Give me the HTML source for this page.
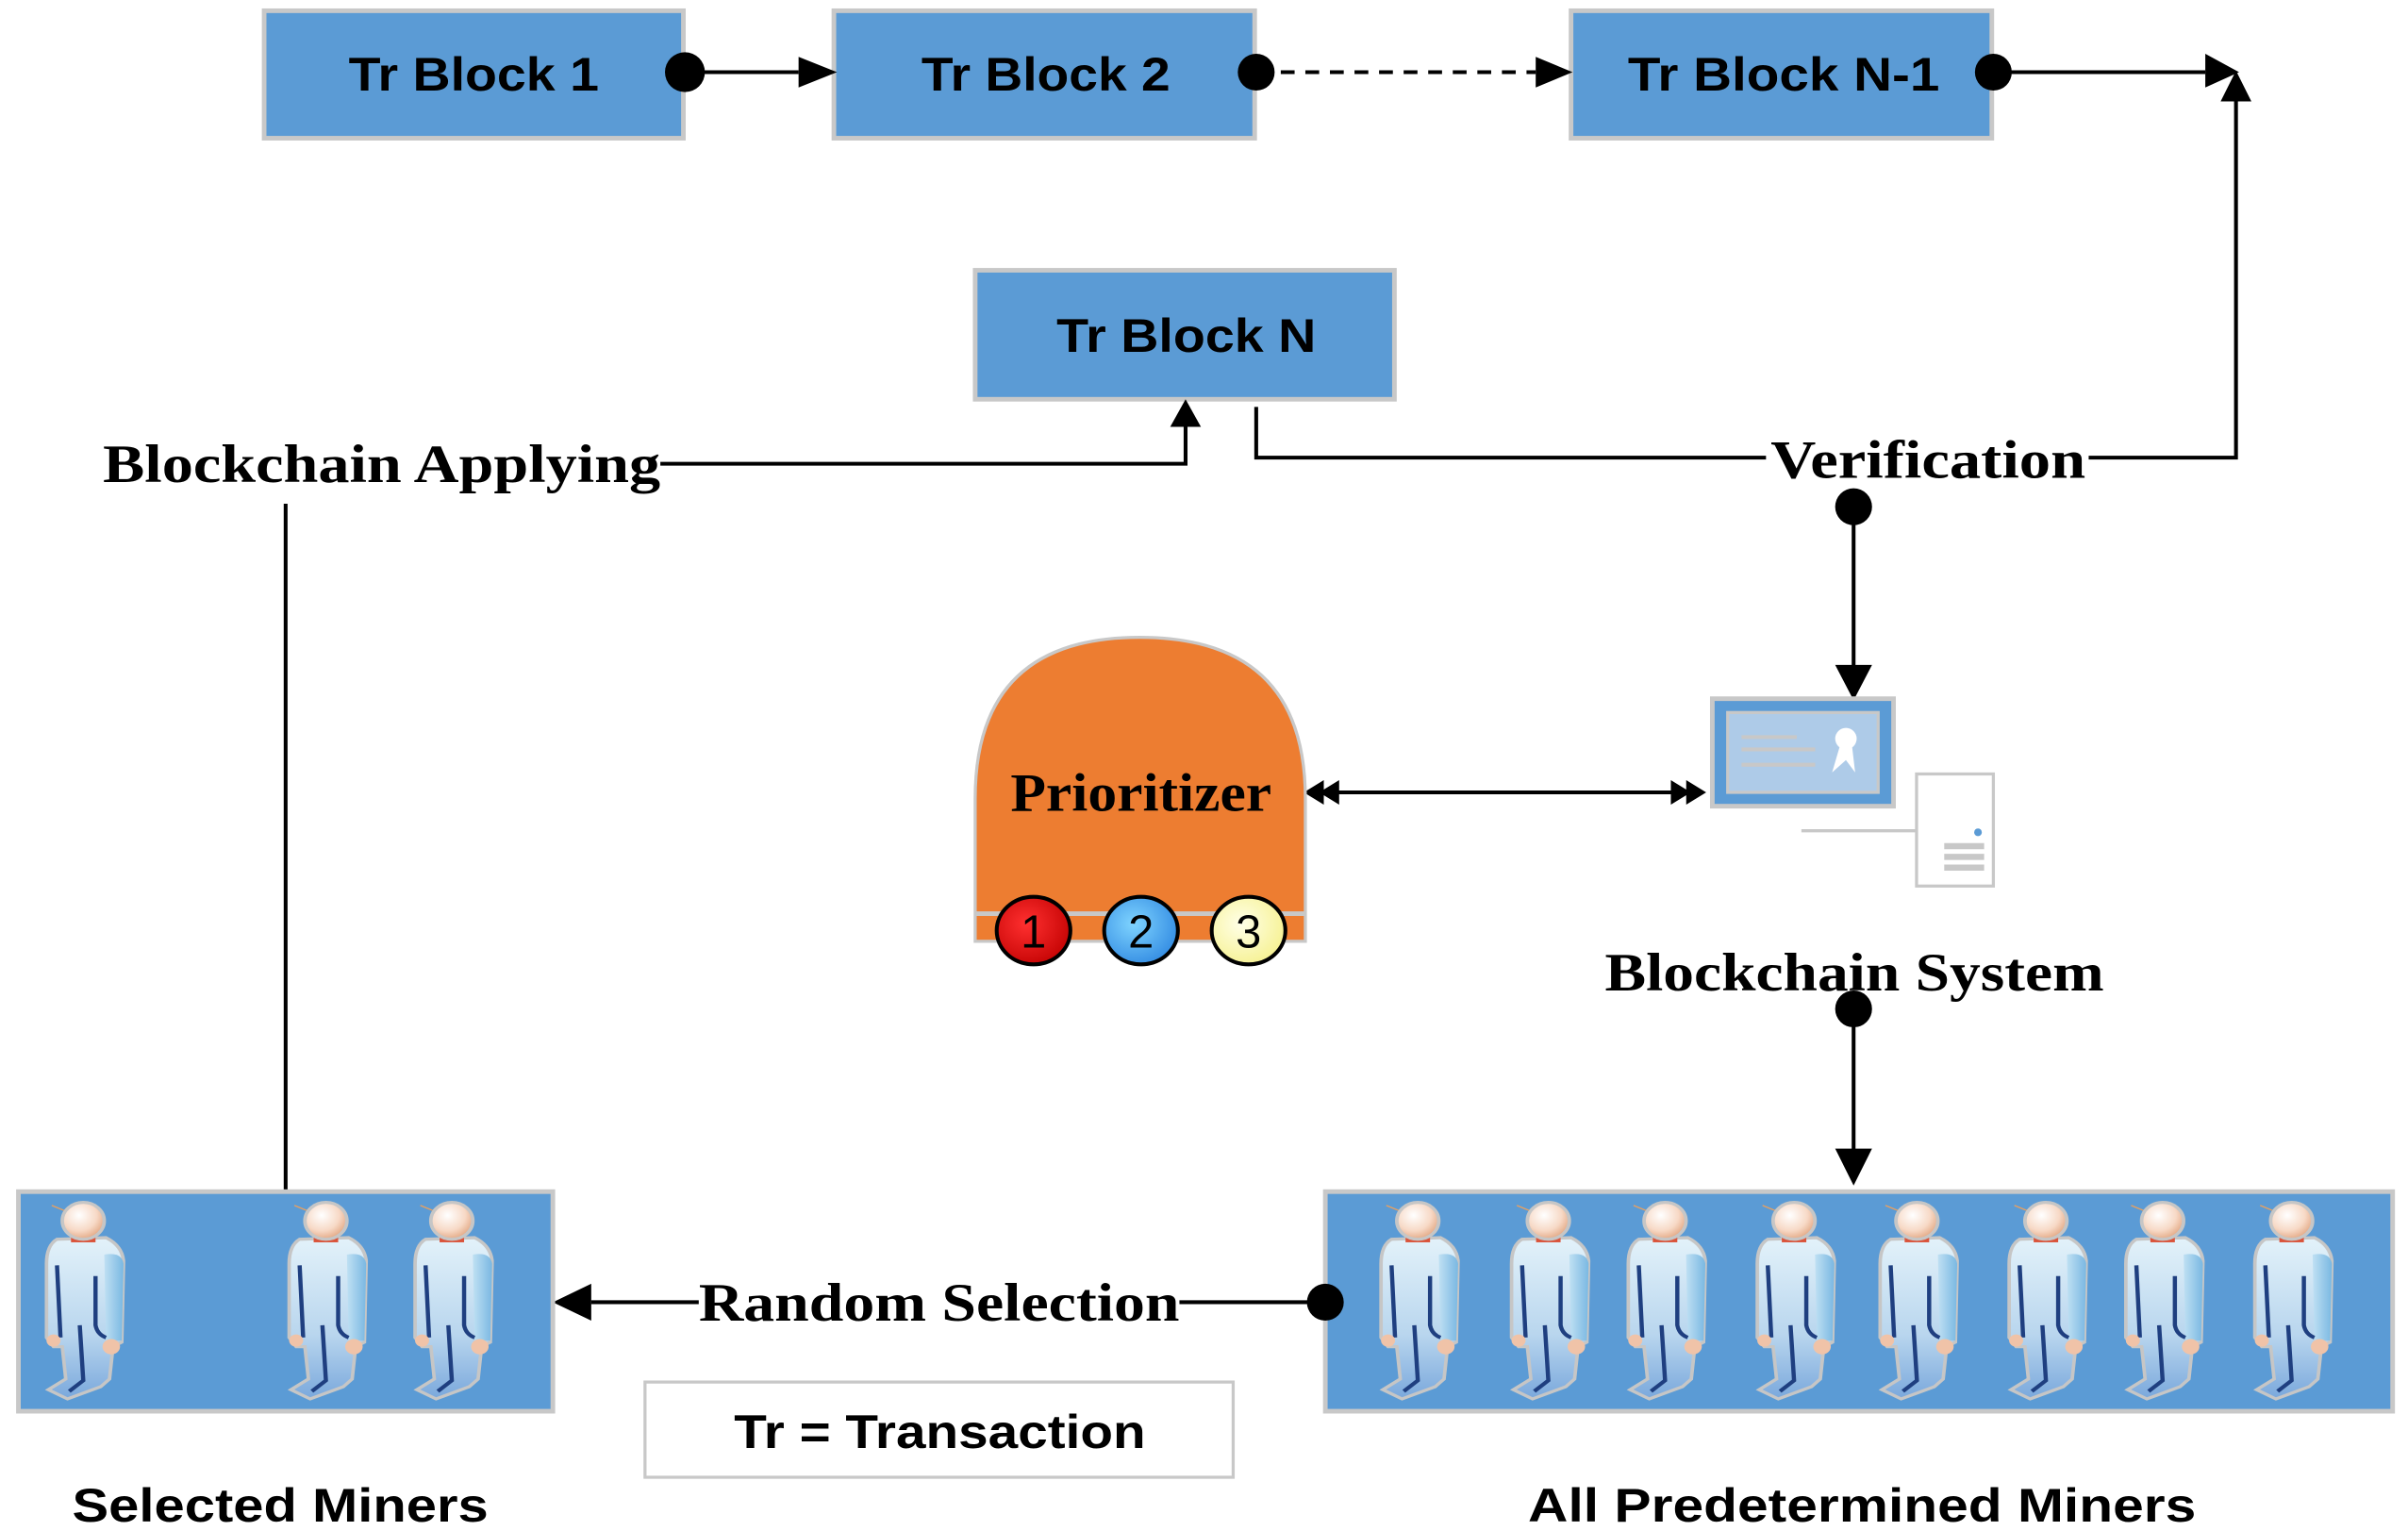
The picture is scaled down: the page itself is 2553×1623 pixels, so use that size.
<!DOCTYPE html>
<html><head><meta charset="utf-8"><style>
html,body{margin:0;padding:0;background:#fff;width:2553px;height:1623px;overflow:hidden}
svg{display:block}
.cal{font-family:"Liberation Sans",sans-serif;font-weight:bold;fill:#000}
.ser{font-family:"Liberation Serif",serif;font-weight:bold;fill:#000}
</style></head><body>
<svg width="2553" height="1623" viewBox="0 0 1568 997" preserveAspectRatio="none" xmlns="http://www.w3.org/2000/svg">
<defs>
<linearGradient id="body" x1="0" y1="0" x2="0" y2="1"><stop offset="0" stop-color="#e3f2fa"/><stop offset="0.6" stop-color="#b9d6ee"/><stop offset="1" stop-color="#7aa8dc"/></linearGradient>
<linearGradient id="arm" x1="0" y1="0" x2="1" y2="0"><stop offset="0" stop-color="#bfe0f3"/><stop offset="1" stop-color="#7ab8e2"/></linearGradient>
<radialGradient id="head" cx="0.4" cy="0.35" r="0.7"><stop offset="0" stop-color="#fff"/><stop offset="0.6" stop-color="#f7d9c6"/><stop offset="1" stop-color="#e0a27c"/></radialGradient>
<radialGradient id="c1" cx="0.4" cy="0.4" r="0.7"><stop offset="0" stop-color="#ff3030"/><stop offset="1" stop-color="#c00000"/></radialGradient>
<radialGradient id="c2" cx="0.4" cy="0.4" r="0.7"><stop offset="0" stop-color="#7fd4ff"/><stop offset="1" stop-color="#2d86e0"/></radialGradient>
<radialGradient id="c3" cx="0.4" cy="0.4" r="0.7"><stop offset="0" stop-color="#ffffe8"/><stop offset="1" stop-color="#f5f08a"/></radialGradient>
<g id="p0">
<line x1="5" y1="4" x2="18" y2="10" stroke="#e8a060" stroke-width="0.8"/>
<path d="M8,26 Q2,30 2,42 L2,90 L6,96 L11,96 L13,117 L3,124 L14,130 L33,122 L38,117 L40,96 L45,93 L46,40 Q45,30 36,25 Z" fill="url(#body)" stroke="#c6c6c6" stroke-width="2"/>
<path d="M35,36 Q45,34 46,42 L45,92 L36,92 Z" fill="url(#arm)"/>
<rect x="16" y="23" width="14" height="5" fill="#d9533a"/>
<circle cx="23" cy="14" r="12" fill="url(#head)" stroke="#c6c6c6" stroke-width="2"/>
<path d="M8,43 L10,90 M30,50 L30,82 Q31,88 36,90 M21,82 L23,118 L15,125" fill="none" stroke="#1f3f80" stroke-width="2.4"/>
<circle cx="6" cy="92" r="4" fill="#f0c3a8"/><circle cx="39" cy="96" r="5" fill="#f0c3a8"/>
</g>
<g id="p"><use href="#p0" transform="scale(1.14,1)"/></g>
</defs>

<g stroke="#c8c8c8" stroke-width="3" fill="#5b9bd5">
<rect x="172" y="7" width="273" height="83"/>
<rect x="543" y="7" width="274" height="83"/>
<rect x="1023" y="7" width="274" height="83"/>
<rect x="635" y="176" width="273" height="84"/>
</g>
<text class="cal" x="227" y="59" font-size="31" textLength="163" lengthAdjust="spacingAndGlyphs">Tr Block 1</text>
<text class="cal" x="600" y="59" font-size="31" textLength="162" lengthAdjust="spacingAndGlyphs">Tr Block 2</text>
<text class="cal" x="1060" y="59" font-size="31" textLength="203" lengthAdjust="spacingAndGlyphs">Tr Block N-1</text>
<text class="cal" x="688" y="229" font-size="31" textLength="169" lengthAdjust="spacingAndGlyphs">Tr Block N</text>

<g stroke="#000" stroke-width="2.5" fill="none">
<line x1="446" y1="47" x2="520" y2="47"/>
<line x1="818" y1="47" x2="1000" y2="47" stroke-dasharray="9,7"/>
<line x1="1298" y1="47" x2="1436" y2="47"/>
<polyline points="1360,298 1456,298 1456,66"/>
<polyline points="818,265 818,298 1150,298"/>
<polyline points="430,302 772,302 772,278"/>
<line x1="186" y1="328" x2="186" y2="776"/>
<line x1="1207" y1="330" x2="1207" y2="435"/>
<line x1="868" y1="516" x2="1092" y2="516"/>
<line x1="1207" y1="657" x2="1207" y2="752"/>
<line x1="385" y1="848" x2="455" y2="848"/>
<line x1="768" y1="848" x2="863" y2="848"/>
</g>
<g fill="#000">
<circle cx="446" cy="47" r="13" /><path d="M520,37 L545,47 L520,57Z"/>
<circle cx="818" cy="47" r="12"/><path d="M1000,37 L1024,47 L1000,57Z"/>
<circle cx="1298" cy="47" r="12"/><path d="M1436,35 L1458,47 L1436,57Z"/>
<path d="M1446,66 L1456,46 L1466,66Z"/>
<path d="M762,278 L772,260 L782,278Z"/>
<circle cx="1207" cy="330" r="12"/><path d="M1195,433 L1207,456 L1219,433Z"/>
<circle cx="1207" cy="657" r="12"/><path d="M1195,748 L1207,772 L1219,748Z"/>
<path d="M385,836 L360,848 L385,860Z"/>
<path d="M849,516 L862,508 L862,524Z M859,516 L872,508 L872,524Z"/>
<path d="M1111,516 L1098,508 L1098,524Z M1101,516 L1088,508 L1088,524Z"/>
</g>

<text class="ser" x="67" y="314" font-size="35" textLength="363" lengthAdjust="spacingAndGlyphs">Blockchain Applying</text>
<rect x="1150" y="280" width="210" height="36" fill="#fff"/>
<text class="ser" x="1153" y="311" font-size="35" textLength="205" lengthAdjust="spacingAndGlyphs">Verification</text>
<text class="ser" x="1045" y="645" font-size="35" textLength="325" lengthAdjust="spacingAndGlyphs">Blockchain System</text>
<text class="ser" x="455" y="860" font-size="35" textLength="313" lengthAdjust="spacingAndGlyphs">Random Selection</text>

<path d="M635,613 L635,520 Q635,415 742,415 Q850,415 850,520 L850,613 Z" fill="#ed7d31" stroke="#c8c8c8" stroke-width="2"/>
<line x1="635" y1="595" x2="850" y2="595" stroke="#c8c8c8" stroke-width="3"/>
<text class="ser" x="743" y="528" font-size="35" text-anchor="middle" textLength="170" lengthAdjust="spacingAndGlyphs">Prioritizer</text>
<g stroke="#000" stroke-width="2.5">
<ellipse cx="673" cy="606" rx="24" ry="22" fill="url(#c1)"/>
<ellipse cx="743" cy="606" rx="24" ry="22" fill="url(#c2)"/>
<ellipse cx="813" cy="606" rx="24" ry="22" fill="url(#c3)"/>
</g>
<g font-family="Liberation Sans,sans-serif" font-size="30" text-anchor="middle" fill="#000">
<text x="673" y="617">1</text><text x="743" y="617">2</text><text x="813" y="617">3</text></g>

<rect x="1115" y="455" width="118" height="70" fill="#5b9bd5" stroke="#c8c8c8" stroke-width="3"/>
<rect x="1125" y="464" width="98" height="52" fill="#aecbe8" stroke="#c8c8c8" stroke-width="2"/>
<g stroke="#c8c8c8" stroke-width="2.5"><line x1="1134" y1="480" x2="1170" y2="480"/><line x1="1134" y1="488" x2="1182" y2="488"/><line x1="1134" y1="498" x2="1182" y2="498"/></g>
<circle cx="1202" cy="481" r="7" fill="#fff"/><path d="M1198,486 L1193,503 L1202,495 L1208,503 L1206,486Z" fill="#fff"/>
<rect x="1248" y="504" width="50" height="73" fill="#fff" stroke="#c8c8c8" stroke-width="2"/>
<line x1="1173" y1="541" x2="1248" y2="541" stroke="#c8c8c8" stroke-width="2"/>
<circle cx="1288" cy="542" r="2.5" fill="#5b9bd5"/>
<g stroke="#c8c8c8" stroke-width="4"><line x1="1266" y1="551" x2="1292" y2="551"/><line x1="1266" y1="558" x2="1292" y2="558"/><line x1="1266" y1="565" x2="1292" y2="565"/></g>

<rect x="12" y="776" width="348" height="143" fill="#5b9bd5" stroke="#c8c8c8" stroke-width="3"/>
<rect x="863" y="776" width="695" height="143" fill="#5b9bd5" stroke="#c8c8c8" stroke-width="3"/>
<circle cx="863" cy="848" r="12" fill="#000"/>
<use href="#p" x="28" y="781"/><use href="#p" x="186" y="781"/><use href="#p" x="268" y="781"/>
<use href="#p" x="897" y="781"/><use href="#p" x="982" y="781"/><use href="#p" x="1058" y="781"/><use href="#p" x="1142" y="781"/>
<use href="#p" x="1222" y="781"/><use href="#p" x="1306" y="781"/><use href="#p" x="1382" y="781"/><use href="#p" x="1466" y="781"/>

<rect x="420" y="900" width="383" height="62" fill="#fff" stroke="#c8c8c8" stroke-width="2"/>
<text class="cal" x="478" y="943" font-size="31" textLength="268" lengthAdjust="spacingAndGlyphs">Tr = Transaction</text>
<text class="cal" x="47" y="991" font-size="31" textLength="271" lengthAdjust="spacingAndGlyphs">Selected Miners</text>
<text class="cal" x="995" y="991" font-size="31" textLength="435" lengthAdjust="spacingAndGlyphs">All Predetermined Miners</text>
</svg>
</body></html>
